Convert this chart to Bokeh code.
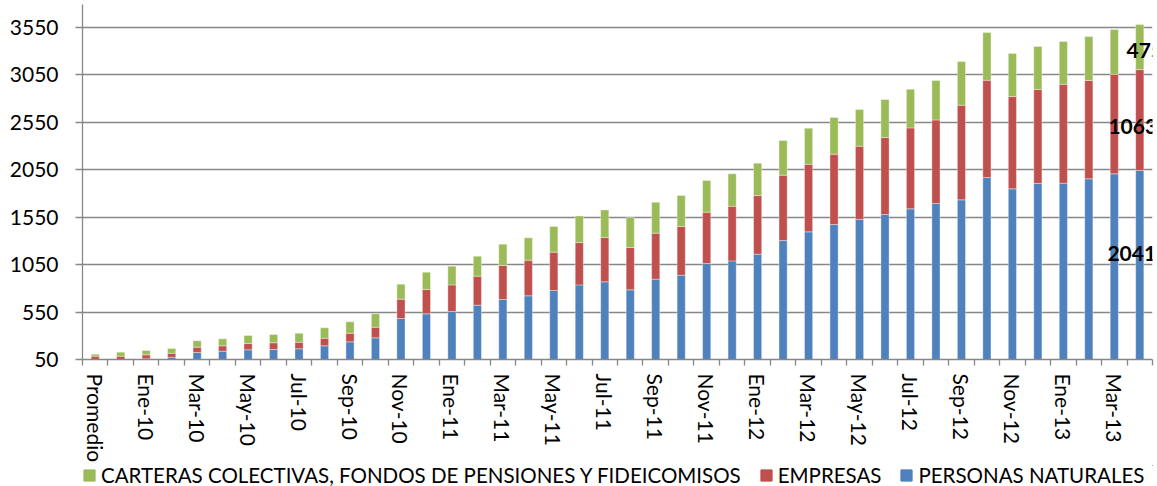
import math
from bokeh.plotting import figure
from bokeh.layouts import column
from bokeh.models import ColumnDataSource, Range1d, FixedTicker, Legend, LegendItem
from bokeh.core.properties import value
from bokeh.embed import file_html
from bokeh.resources import INLINE

categories = ["Promedio", "Dic-09", "Ene-10", "Feb-10", "Mar-10", "Abr-10", "May-10", "Jun-10",
              "Jul-10", "Ago-10", "Sep-10", "Oct-10", "Nov-10", "Dic-10", "Ene-11", "Feb-11",
              "Mar-11", "Abr-11", "May-11", "Jun-11", "Jul-11", "Ago-11", "Sep-11", "Oct-11",
              "Nov-11", "Dic-11", "Ene-12", "Feb-12", "Mar-12", "Abr-12", "May-12", "Jun-12",
              "Jul-12", "Ago-12", "Sep-12", "Oct-12", "Nov-12", "Dic-12", "Ene-13", "Feb-13",
              "Mar-13", "Abr-13"]

personas = [40, 45, 57, 74, 124, 137, 152, 155, 163, 194, 236, 278, 482, 531, 556, 622,
            682, 721, 777, 836, 868, 784, 896, 938, 1061, 1089, 1160, 1303, 1395, 1472,
            1525, 1577, 1637, 1693, 1732, 1967, 1848, 1904, 1907, 1953, 2006, 2041]
empresas = [45, 40, 42, 42, 56, 57, 66, 71, 69, 80, 91, 112, 204, 256, 280, 306,
            358, 375, 404, 446, 467, 446, 485, 513, 541, 576, 617, 689, 712, 741,
            772, 811, 853, 881, 997, 1025, 972, 990, 1043, 1036, 1049, 1063]
carteras = [21, 42, 46, 50, 67, 74, 85, 87, 95, 110, 120, 141, 158, 183, 197, 210,
            225, 236, 270, 281, 291, 316, 326, 326, 333, 341, 341, 365, 380, 386,
            386, 401, 407, 415, 460, 502, 453, 453, 450, 463, 471, 475]

series_names = ["PERSONAS NATURALES", "EMPRESAS",
                "CARTERAS COLECTIVAS, FONDOS DE PENSIONES Y FIDEICOMISOS"]
y_ticks = [50, 550, 1050, 1550, 2050, 2550, 3050, 3550]
y_min, y_max = 50, 3790

BLUE, RED, GREEN = "#4F81BD", "#C0504D", "#9BBB59"
GRID = "#878787"
FONT = "Lato"
STACK = ["personas", "empresas", "carteras"]
COLORS = [BLUE, RED, GREEN]

n = len(categories)
xs = list(range(n))
source = ColumnDataSource(dict(x=xs, cat=categories, personas=personas,
                               empresas=empresas, carteras=carteras))

p = figure(frame_width=1070, frame_height=355, output_backend="svg", toolbar_location=None,
           x_range=Range1d(-0.5, n - 0.5), y_range=Range1d(y_min, y_max),
           min_border_left=82, min_border_right=5, min_border_top=4, min_border_bottom=105)
p.outline_line_color = None
p.background_fill_color = "white"

p.vbar_stack(STACK, x="x", width=0.32, color=COLORS, line_color="white",
             line_width=0.6, line_alpha=0.6, source=source)

# last-bar data labels
last = n - 1
b, r, g = personas[last], empresas[last], carteras[last]
lab_src = ColumnDataSource(dict(
    x=[last, last, last],
    y=[(y_min + b) / 2, b + r / 2, b + r + g / 2],
    text=[str(b), str(r), str(g)],
    dx=[-8, -7, 5],
    dy=[-12, 6, 3],
))
p.text(x="x", y="y", text="text", source=lab_src, x_offset="dx", y_offset="dy",
       text_align="center", text_baseline="middle", text_font=value(FONT),
       text_font_style="bold", text_font_size="21px", text_color="black")

# axes
p.xaxis.ticker = FixedTicker(ticks=xs[::2], minor_ticks=[i - 0.5 for i in range(n + 1)])
p.xaxis.major_label_overrides = {i: categories[i] for i in xs[::2]}
p.xaxis.major_label_orientation = -math.pi / 2
p.xaxis.major_tick_out = 0
p.xaxis.major_tick_in = 0
p.xaxis.minor_tick_out = 6
p.xaxis.minor_tick_in = 0
p.xaxis.minor_tick_line_color = GRID
p.xaxis.minor_tick_line_width = 1.3
p.xaxis.axis_line_color = GRID
p.xaxis.axis_line_width = 1.3
p.xaxis.major_label_text_font = FONT
p.xaxis.major_label_text_font_size = "21px"
p.xaxis.major_label_text_color = "black"
p.xaxis.major_label_standoff = 8

p.yaxis.ticker = FixedTicker(ticks=y_ticks)
p.yaxis.major_tick_out = 7
p.yaxis.major_tick_in = 0
p.yaxis.minor_tick_line_color = None
p.yaxis.major_tick_line_color = GRID
p.yaxis.major_tick_line_width = 1.3
p.yaxis.axis_line_color = GRID
p.yaxis.axis_line_width = 1.3
p.yaxis.major_label_text_font = FONT
p.yaxis.major_label_text_font_size = "21px"
p.yaxis.major_label_text_color = "black"
p.yaxis.major_label_standoff = 17

p.xgrid.grid_line_color = None
p.ygrid.ticker = FixedTicker(ticks=y_ticks)
p.ygrid.grid_line_color = GRID
p.ygrid.grid_line_width = 1.3

# legend strip (a small figure whose frame holds the legend)
pl = figure(width=1157, height=22, output_backend="svg", toolbar_location=None,
            x_axis_type=None, y_axis_type=None,
            x_range=Range1d(-1000, -999), y_range=Range1d(-1000, -999),
            min_border_left=0, min_border_right=0, min_border_top=0, min_border_bottom=0)
pl.outline_line_color = None
pl.grid.visible = False
leg_renderers = pl.vbar_stack(STACK, x="x", width=0.32, color=COLORS, source=source)

legend = Legend(items=[LegendItem(label=series_names[2], renderers=[leg_renderers[2]]),
                       LegendItem(label=series_names[1], renderers=[leg_renderers[1]]),
                       LegendItem(label=series_names[0], renderers=[leg_renderers[0]])],
                orientation="horizontal", location=(0, 0))
legend.label_text_font = FONT
legend.label_text_font_size = "20.5px"
legend.label_text_color = "black"
legend.label_height = 16
legend.glyph_width = 14
legend.glyph_height = 14
legend.label_standoff = 5
legend.spacing = 18
legend.padding = 0
legend.margin = 0
legend.border_line_color = None
legend.background_fill_alpha = 0
pl.add_layout(legend, "center")

layout = column(p, pl, spacing=0)
open("out.html", "w").write(file_html(layout, INLINE))
